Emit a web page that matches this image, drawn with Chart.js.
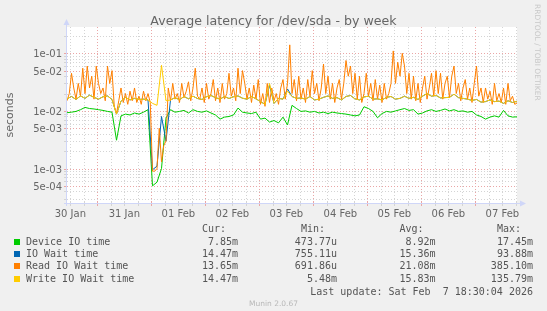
<!DOCTYPE html>
<html>
<head>
<meta charset="utf-8">
<style>
html,body{margin:0;padding:0;background:#f0f0f0;}
#wrap{position:relative;width:547px;height:311px;overflow:hidden;font-family:"DejaVu Sans",sans-serif;color:#666;}
#chart{position:absolute;left:0;top:0;}
.t{position:absolute;white-space:pre;line-height:12px;}
.mono{font-family:"DejaVu Sans Mono",monospace;font-size:10px;color:#555;}
.box{position:absolute;width:6px;height:6px;}
#title{position:absolute;left:0;top:13px;width:547px;text-align:center;font-size:12.6px;line-height:15px;color:#666;}
#rrd{position:absolute;left:533px;top:4px;writing-mode:vertical-rl;font-size:7.5px;color:#c8c8c8;line-height:9px;white-space:nowrap;}
#ver{position:absolute;left:0;top:299px;width:547px;text-align:center;font-size:7.5px;color:#b8b8b8;line-height:10px;}
</style>
<script src="https://cdn.jsdelivr.net/npm/chart.js@4.4.1/dist/chart.umd.min.js"></script>
</head>
<body>
<div id="wrap">
  <canvas id="chart" width="547" height="311"></canvas>
  <div id="title">Average latency for /dev/sda - by week</div>
  <div id="rrd">RRDTOOL / TOBI OETIKER</div>
  <div id="legend"></div>
  <div id="ver">Munin 2.0.67</div>
</div>
<script>
// hours counted from 30 Jan 00:00; first sample at 30 Jan 10:30
const startHour = 10.5;
const stepHours = 2;      // device / io wait / write
const readStepHours = 1;  // read wait is sampled finer (spiky)

const deviceIO = [
  0.0093,0.0095,0.0098,0.0105,0.0115,0.011,0.0108,0.0105,0.0102,0.0098,
  0.0095,0.0031,0.0082,0.0088,0.0085,0.0092,0.0088,0.0095,0.0105,0.0005,
  0.00058,0.001,0.0075,0.0105,0.0095,0.0098,0.0102,0.0092,0.0105,0.0098,
  0.0095,0.01,0.0092,0.0085,0.0072,0.0078,0.008,0.0085,0.0112,0.0095,
  0.0092,0.009,0.0095,0.0072,0.0075,0.0064,0.0068,0.0062,0.0078,0.0057,
  0.0125,0.011,0.0098,0.01,0.0095,0.0098,0.0092,0.0095,0.009,0.0095,
  0.0092,0.009,0.0088,0.0085,0.0082,0.0085,0.0118,0.011,0.0098,0.0076,
  0.009,0.0098,0.0095,0.01,0.0105,0.011,0.0102,0.0105,0.0088,0.0092,
  0.01,0.0105,0.0098,0.0102,0.0108,0.01,0.0105,0.0098,0.01,0.0095,
  0.0098,0.0085,0.008,0.0072,0.0078,0.0082,0.0078,0.0102,0.0082,0.0078,
  0.0079
];
const ioWait = [
  0.0162,0.0178,0.0158,0.0182,0.0165,0.0188,0.0172,0.016,0.0176,0.0182,
  0.0158,0.0088,0.0148,0.0172,0.0155,0.0165,0.0158,0.016,0.0155,0.00095,
  0.0011,0.008,0.003,0.0155,0.017,0.0156,0.0178,0.0162,0.018,0.0164,
  0.0158,0.0176,0.0185,0.017,0.016,0.0178,0.0164,0.0176,0.0182,0.0166,
  0.016,0.0178,0.0162,0.0145,0.013,0.028,0.0135,0.0165,0.016,0.024,
  0.0178,0.0165,0.0168,0.016,0.0178,0.0155,0.016,0.0172,0.0182,0.0165,
  0.017,0.0155,0.0178,0.0185,0.0162,0.0155,0.0175,0.018,0.016,0.0162,
  0.0155,0.0172,0.0178,0.016,0.0165,0.018,0.0165,0.0172,0.0158,0.018,
  0.02,0.018,0.0186,0.0168,0.017,0.0172,0.0195,0.017,0.0165,0.016,
  0.0152,0.0158,0.0142,0.0145,0.0155,0.0145,0.0148,0.0135,0.015,0.014,
  0.0147
];
const readWait = [
  0.015,0.02,0.045,0.025,0.016,0.03,0.018,0.055,0.02,0.06,
  0.025,0.04,0.016,0.06,0.03,0.02,0.025,0.015,0.06,0.03,
  0.05,0.012,0.009,0.015,0.025,0.014,0.02,0.013,0.022,0.015,
  0.025,0.014,0.018,0.013,0.022,0.015,0.02,0.014,0.0009,0.0009,
  0.001,0.005,0.0013,0.0025,0.003,0.025,0.015,0.03,0.016,0.02,
  0.014,0.03,0.017,0.022,0.032,0.015,0.025,0.055,0.018,0.016,
  0.025,0.014,0.03,0.016,0.02,0.035,0.015,0.025,0.014,0.03,
  0.016,0.02,0.045,0.018,0.025,0.015,0.055,0.02,0.05,0.03,
  0.016,0.025,0.014,0.028,0.016,0.035,0.013,0.02,0.012,0.03,
  0.014,0.025,0.015,0.02,0.013,0.025,0.035,0.016,0.03,0.14,
  0.02,0.035,0.015,0.04,0.016,0.025,0.014,0.035,0.018,0.05,
  0.02,0.03,0.015,0.025,0.065,0.02,0.04,0.016,0.03,0.014,
  0.025,0.035,0.016,0.03,0.075,0.04,0.06,0.02,0.045,0.016,
  0.04,0.014,0.02,0.045,0.018,0.03,0.015,0.035,0.016,0.028,
  0.014,0.03,0.016,0.02,0.03,0.11,0.03,0.07,0.04,0.1,
  0.06,0.02,0.045,0.016,0.04,0.015,0.03,0.014,0.025,0.04,
  0.016,0.025,0.045,0.018,0.05,0.02,0.045,0.016,0.03,0.04,
  0.017,0.04,0.06,0.02,0.03,0.015,0.025,0.035,0.016,0.025,
  0.014,0.03,0.06,0.018,0.025,0.014,0.025,0.016,0.022,0.013,
  0.03,0.015,0.02,0.014,0.025,0.013,0.03,0.015,0.018,0.013,
  0.0137
];
const writeWait = [
  0.0162,0.0178,0.0158,0.0182,0.0165,0.0188,0.0172,0.016,0.0176,0.0182,
  0.0158,0.0088,0.0148,0.0172,0.0155,0.0165,0.0158,0.016,0.0155,0.0135,
  0.0125,0.062,0.015,0.0155,0.017,0.0156,0.0178,0.0162,0.018,0.0164,
  0.0158,0.0176,0.0185,0.017,0.016,0.0178,0.0164,0.0176,0.0182,0.0166,
  0.016,0.0178,0.0162,0.0145,0.013,0.03,0.0135,0.0165,0.016,0.022,
  0.0178,0.0165,0.0168,0.016,0.0178,0.0155,0.016,0.0172,0.0182,0.0165,
  0.017,0.0155,0.0178,0.0185,0.0162,0.0155,0.0175,0.018,0.016,0.0162,
  0.0155,0.0172,0.0178,0.016,0.0165,0.018,0.0165,0.0172,0.0158,0.018,
  0.02,0.018,0.0186,0.0168,0.017,0.0172,0.0195,0.017,0.0165,0.016,
  0.0152,0.0158,0.0142,0.0145,0.0155,0.0145,0.0148,0.0135,0.015,0.014,
  0.0147
];

const seriesNames = ['Device IO time','IO Wait time','Read IO Wait time','Write IO Wait time'];
const seriesColors = ['#00cc00','#0066b3','#ff8000','#ffcc00'];
const curVals = ['7.85m','14.47m','13.65m','14.47m'];
const minVals = ['473.77u','755.11u','691.86u','5.48m'];
const avgVals = ['8.92m','15.36m','21.08m','15.83m'];
const maxVals = ['17.45m','93.88m','385.10m','135.79m'];

const xTickHours = [12,36,60,84,108,132,156,180,204];
const xTickLabels = ['30 Jan','31 Jan','01 Feb','02 Feb','03 Feb','04 Feb','05 Feb','06 Feb','07 Feb'];
const yTickValues = [5e-4,1e-3,5e-3,1e-2,5e-2,1e-1];
const yTickLabels = ['5e-04','1e-03','5e-03','1e-02','5e-02','1e-01'];
const yMinorGrid = [3e-4,4e-4,6e-4,7e-4,8e-4,9e-4,2e-3,3e-3,4e-3,6e-3,7e-3,8e-3,9e-3,
  2e-2,3e-2,4e-2,6e-2,7e-2,8e-2,9e-2,2e-1];

const xMin = 10.5, xMax = 210.5, yMin = 2.52e-4, yMax = 0.286;

const pts = (arr, step) => arr.map((v,i) => ({x: startHour + step*i, y: v}));

// rrdtool look: dotted grid, lavender axes with arrows
const rrdGrid = {
  id: 'rrdGrid',
  beforeDatasetsDraw(chart){
    const {ctx, chartArea: a, scales: {x, y}} = chart;
    ctx.save();
    ctx.fillStyle = '#ffffff';
    ctx.fillRect(a.left, a.top, a.right - a.left, a.bottom - a.top);
    ctx.lineWidth = 1;
    const hline = (v, col) => {
      const py = Math.round(y.getPixelForValue(v)) + 0.5;
      ctx.strokeStyle = col;
      ctx.setLineDash([1,2]); ctx.beginPath(); ctx.moveTo(a.left, py); ctx.lineTo(a.right, py); ctx.stroke();
      ctx.setLineDash([]); ctx.beginPath(); ctx.moveTo(a.left - 3, py); ctx.lineTo(a.left, py); ctx.stroke();
    };
    const vline = (h, col) => {
      const px = Math.round(x.getPixelForValue(h)) + 0.5;
      ctx.strokeStyle = col;
      ctx.setLineDash([1,2]); ctx.beginPath(); ctx.moveTo(px, a.top); ctx.lineTo(px, a.bottom); ctx.stroke();
      ctx.setLineDash([]); ctx.beginPath(); ctx.moveTo(px, a.bottom - 2); ctx.lineTo(px, a.bottom + 3); ctx.stroke();
    };
    const minorCol = '#d4d4d4', majorCol = '#eaa6a6';
    yMinorGrid.forEach(v => hline(v, minorCol));
    for (let h = 12; h < xMax; h += 6) if (h % 24) vline(h, minorCol);
    yTickValues.forEach(v => hline(v, majorCol));
    for (let h = 24; h < xMax; h += 24) vline(h, majorCol);

    // axes + arrows
    const ax = '#cfd6f8';
    ctx.strokeStyle = ax; ctx.fillStyle = ax; ctx.setLineDash([]);
    ctx.beginPath();
    ctx.moveTo(a.left - 0.5, a.bottom + 3); ctx.lineTo(a.left - 0.5, a.top - 4);
    ctx.moveTo(a.left - 3, a.bottom + 0.5); ctx.lineTo(a.right + 4, a.bottom + 0.5);
    ctx.stroke();
    ctx.beginPath();
    ctx.moveTo(a.left - 3.5, a.top - 2); ctx.lineTo(a.left + 2.5, a.top - 2); ctx.lineTo(a.left - 0.5, a.top - 8); ctx.closePath(); ctx.fill();
    ctx.beginPath();
    ctx.moveTo(a.right + 3, a.bottom - 2.5); ctx.lineTo(a.right + 3, a.bottom + 3.5); ctx.lineTo(a.right + 9, a.bottom + 0.5); ctx.closePath(); ctx.fill();
    ctx.restore();
  }
};

Chart.defaults.font.family = '"DejaVu Sans", sans-serif';
Chart.defaults.color = '#666';

const mk = (label, data, step, color, order) => ({
  label, data: pts(data, step), borderColor: color, backgroundColor: color,
  borderWidth: 1, pointRadius: 0, tension: 0, order
});

new Chart(document.getElementById('chart'), {
  type: 'line',
  data: {
    datasets: [
      mk(seriesNames[0], deviceIO, stepHours, seriesColors[0], 4),
      mk(seriesNames[1], ioWait, stepHours, seriesColors[1], 3),
      mk(seriesNames[2], readWait, readStepHours, seriesColors[2], 2),
      mk(seriesNames[3], writeWait, stepHours, seriesColors[3], 1)
    ]
  },
  options: {
    responsive: false,
    animation: false,
    devicePixelRatio: 1,
    layout: { padding: { left: 0, top: 27, right: 30, bottom: 88 } },
    plugins: { legend: { display: false }, tooltip: { enabled: false } },
    scales: {
      x: {
        type: 'linear', min: xMin, max: xMax, bounds: 'data',
        grid: { display: false, drawTicks: false }, border: { display: false },
        afterBuildTicks: s => { s.ticks = xTickHours.map(v => ({value: v})); },
        afterFit: s => { s.height = 20; },
        ticks: { autoSkip: false, maxRotation: 0, minRotation: 0, padding: 5,
          font: { size: 10 }, color: '#666', callback: (v, i) => xTickLabels[i] }
      },
      y: {
        type: 'logarithmic', min: yMin, max: yMax, bounds: 'data',
        grid: { display: false, drawTicks: false }, border: { display: false },
        afterBuildTicks: s => { s.ticks = yTickValues.map(v => ({value: v})); },
        afterFit: s => { s.width = 67; },
        ticks: { autoSkip: false, padding: 5, labelOffset: 1.5, font: { size: 10 }, color: '#666',
          callback: (v, i) => yTickLabels[i] },
        title: { display: true, text: 'seconds', font: { size: 11 }, color: '#666', padding: { top: 4, bottom: 0 } }
      }
    }
  },
  plugins: [rrdGrid]
});

// legend table under the graph
const lg = document.getElementById('legend');
const rowsY = [241.5, 254, 266.3, 279.2];
const colRight = [238, 337, 435.5, 533];
const heads = ['Cur:','Min:','Avg:','Max:'];
function txt(s, x, yc, right){
  const d = document.createElement('div');
  d.className = 't mono';
  d.textContent = s;
  d.style.top = (yc - 6) + 'px';
  if (right) d.style.right = (547 - x) + 'px'; else d.style.left = x + 'px';
  lg.appendChild(d);
}
heads.forEach((h, j) => txt(h, colRight[j] - 12, 229, true));
seriesNames.forEach((n, i) => {
  const b = document.createElement('div');
  b.className = 'box';
  b.style.left = '14px'; b.style.top = (rowsY[i] - 3) + 'px';
  b.style.background = seriesColors[i];
  lg.appendChild(b);
  txt(n, 26, rowsY[i], false);
  [curVals, minVals, avgVals, maxVals].forEach((col, j) => txt(col[i], colRight[j], rowsY[i], true));
});
txt('Last update: Sat Feb  7 18:30:04 2026', 533, 291.8, true);
</script>
</body>
</html>
